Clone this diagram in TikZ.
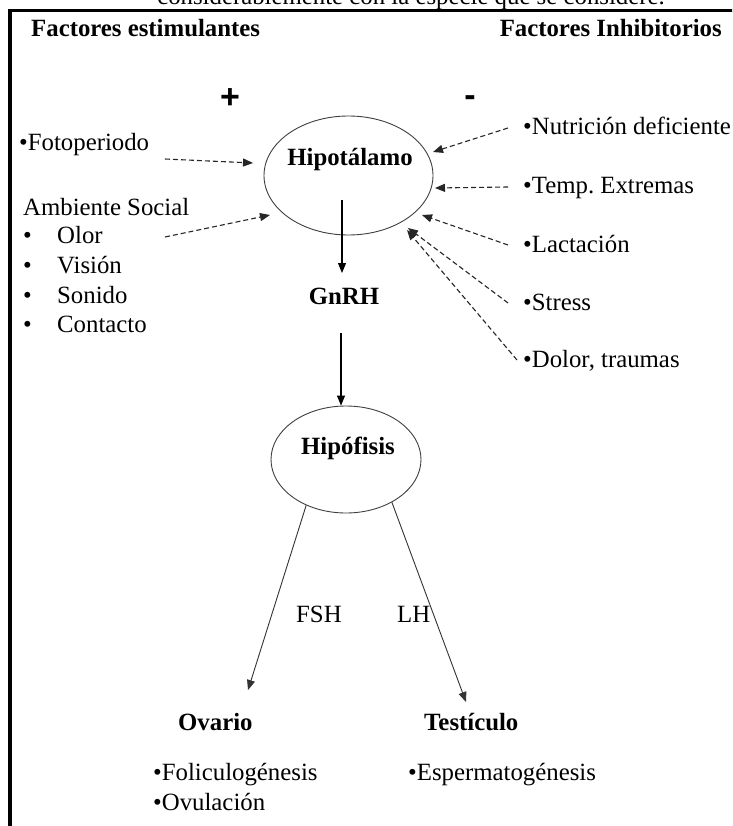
\documentclass[tikz,border=0pt]{standalone}
\usepackage{fontspec}
\setmainfont{Liberation Serif}
\newfontfamily\arialfont{Liberation Sans}
\usetikzlibrary{arrows.meta,shapes.geometric}
\frenchspacing
\begin{document}
\begin{tikzpicture}[x=1pt,y=-1pt,
  txt/.style={anchor=base west,inner sep=0pt,font=\fontsize{24.8}{29}\selectfont},
  btxt/.style={anchor=base west,inner sep=0pt,font=\fontsize{24.8}{29}\selectfont\bfseries},
  sgn/.style={inner sep=0pt,font=\arialfont\bfseries\fontsize{34}{34}\selectfont},
  ell/.style={draw=black!75,line width=0.9pt,ellipse,inner sep=0pt},
  dar/.style={draw=black!85,line width=1.1pt,dash pattern=on 5pt off 3pt,-{Triangle[length=10pt,width=8pt]}},
  sar/.style={draw=black,line width=1.1pt,-{Triangle[length=10pt,width=8pt]}},
  tar/.style={draw=black!80,line width=0.9pt,-{Triangle[length=10pt,width=8pt]}}
]
\useasboundingbox (0,0) rectangle (732,826);
\clip (0,0) rectangle (732,826);
\fill[white] (0,0) rectangle (732,826);

% cut-off caption line at top
\node[txt,anchor=base] (caption) at (411,5) {considerablemente con la especie que se considere.};

% frame
\draw[line width=3.2pt,line join=miter] (10,840) -- (10,10.5) -- (745,10.5);

% headers
\node[btxt] (hstim) at (31,37) {Factores estimulantes};
\node[btxt,anchor=base east] (hinh) at (722,37) {Factores Inhibitorios};
\node[sgn] (plus) at (230,99) {+};
\node[sgn] (minus) at (470,101) {-};

% left factors
\node[txt] (foto) at (19,151) {•Fotoperiodo};
\node[txt] (amb) at (23,215) {Ambiente Social};
\node[txt] (b1) at (23,243) {•};
\node[txt] (olor) at (57,243) {Olor};
\node[txt] (b2) at (23,273) {•};
\node[txt] (vision) at (57,273) {Visión};
\node[txt] (b3) at (23,303) {•};
\node[txt] (sonido) at (57,303) {Sonido};
\node[txt] (b4) at (23,332) {•};
\node[txt] (contacto) at (57,332) {Contacto};

% right factors
\node[txt] (nut) at (523,135) {•Nutrición deficiente};
\node[txt] (temp) at (523,194) {•Temp. Extremas};
\node[txt] (lact) at (523,252) {•Lactación};
\node[txt] (stress) at (523,310) {•Stress};
\node[txt] (dolor) at (523,367) {•Dolor, traumas};

% central nodes
\node[ell,minimum width=169pt,minimum height=119pt] (hypo) at (348.5,175.5) {};
\node[btxt,anchor=base] (hypot) at (350,166) {Hipotálamo};
\node[btxt,anchor=base] (gnrh) at (344,304) {GnRH};
\node[ell,minimum width=150pt,minimum height=107pt] (hipof) at (346,459.5) {};
\node[btxt,anchor=base] (hipoft) at (348,454) {Hipófisis};

\node[txt] (fsh) at (296,622) {FSH};
\node[txt] (lh) at (397,622) {LH};
\node[btxt] (ovario) at (178,730) {Ovario};
\node[btxt] (testic) at (424,730) {Testículo};
\node[txt] (folic) at (153,780) {•Foliculogénesis};
\node[txt] (ovul) at (153,810) {•Ovulación};
\node[txt] (esperm) at (408,780) {•Espermatogénesis};

% connector end points
\coordinate (fotoA) at (165,159);   \coordinate (fotoB) at (253,163);
\coordinate (ambA) at (165,237);    \coordinate (ambB) at (270,215);
\coordinate (nutA) at (508,128);    \coordinate (nutB) at (433,152);
\coordinate (tempA) at (508,187);   \coordinate (tempB) at (435,188);
\coordinate (lactA) at (508,245);   \coordinate (lactB) at (422,215);
\coordinate (stressA) at (508,303); \coordinate (stressB) at (408,228);
\coordinate (dolorA) at (517,360);  \coordinate (dolorB) at (407,230);
\coordinate (hypoOut) at (342,200); \coordinate (gnrhIn) at (342,273);
\coordinate (gnrhOut) at (341,333);
\coordinate (ovTip) at (248,690);   \coordinate (teTip) at (466,702);

% dashed influences
\draw[dar] (fotoA) -- (fotoB);
\draw[dar] (ambA) -- (ambB);
\draw[dar] (nutA) -- (nutB);
\draw[dar] (tempA) -- (tempB);
\draw[dar] (lactA) -- (lactB);
\draw[dar] (stressA) -- (stressB);
\draw[dar] (dolorA) -- (dolorB);

% main axis
\draw[sar] (hypoOut) -- (gnrhIn);
\draw[sar] (gnrhOut) -- (gnrhOut |- hipof.north);
\draw[tar] (hipof.229) -- (ovTip);
\draw[tar] (hipof.317) -- (teTip);
\end{tikzpicture}
\end{document}
